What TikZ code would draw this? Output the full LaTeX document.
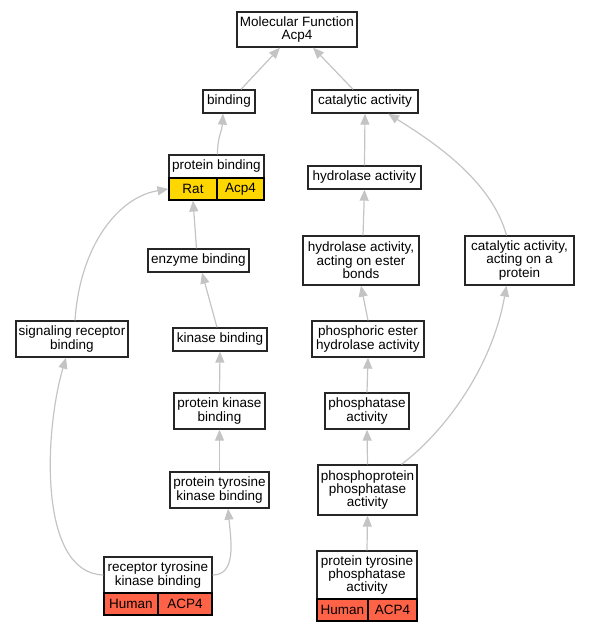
\documentclass[tikz,border=0pt]{standalone}
\usepackage{fontspec}
\setmainfont{Liberation Sans}
\usetikzlibrary{arrows.meta}
\definecolor{edgegray}{HTML}{C4C4C4}
\definecolor{ratgold}{HTML}{FFD700}
\definecolor{humanred}{HTML}{FF6347}

\begin{document}
\begin{tikzpicture}[x=1pt,y=-1pt,
    term/.style={draw=black!85, line width=1.3pt, fill=white, align=center, inner sep=0pt, font=\fontsize{13.5}{13.4}\selectfont},
    cell/.style={draw=black, line width=1.1pt, align=center, inner sep=0pt, minimum height=22pt, font=\fontsize{13.5}{13.4}\selectfont},
    edge/.style={draw=edgegray, line width=1.2pt, -{Triangle[length=11pt,width=9pt]}}]
    \useasboundingbox (0,0) rectangle (589,632);
    % terms
    \node[term, minimum width=120pt, minimum height=35pt] (mf) at (297,29.5) {Molecular Function\\Acp4};
    \node[term, minimum width=52pt, minimum height=23pt] (bind) at (229,101.5) {binding};
    \node[term, minimum width=106pt, minimum height=23pt] (cat) at (365,101.5) {catalytic activity};
    \node[term, minimum width=95pt, minimum height=23pt] (pb) at (216.5,166.5) {protein binding};
    \node[cell, fill=ratgold, minimum width=48pt] (pbRat) at (193,189) {Rat};
    \node[cell, fill=ratgold, minimum width=47pt] (pbAcp) at (240.5,189) {Acp4};
    \node[term, minimum width=113pt, minimum height=23pt] (hyd) at (364.5,177.5) {hydrolase activity};
    \node[term, minimum width=101pt, minimum height=23pt] (enz) at (198.5,260.5) {enzyme binding};
    \node[term, minimum width=116pt, minimum height=49pt] (hydest) at (361,260.5) {hydrolase activity,\\acting on ester\\bonds};
    \node[term, minimum width=109pt, minimum height=49pt] (catprot) at (519.5,260.5) {catalytic activity,\\acting on a\\protein};
    \node[term, minimum width=112pt, minimum height=36pt] (sig) at (72,339) {signaling receptor\\binding};
    \node[term, minimum width=94pt, minimum height=23pt] (kin) at (220,339.5) {kinase binding};
    \node[term, minimum width=112pt, minimum height=36pt] (phest) at (368,339) {phosphoric ester\\hydrolase activity};
    \node[term, minimum width=91pt, minimum height=36pt] (pkb) at (219.5,411) {protein kinase\\binding};
    \node[term, minimum width=84pt, minimum height=36pt] (phos) at (367,411) {phosphatase\\activity};
    \node[term, minimum width=99pt, minimum height=36pt] (ptkb) at (219.5,490) {protein tyrosine\\kinase binding};
    \node[term, minimum width=99pt, minimum height=50pt] (ppp) at (367.5,490) {phosphoprotein\\phosphatase\\activity};
    \node[term, minimum width=108pt, minimum height=36pt] (rtkb) at (158,575) {receptor tyrosine\\kinase binding};
    \node[cell, fill=humanred, minimum width=54pt] (rtkbHuman) at (131,604) {Human};
    \node[cell, fill=humanred, minimum width=54pt] (rtkbAcp) at (185,604) {ACP4};
    \node[term, minimum width=100pt, minimum height=48pt] (ptpa) at (367,575) {protein tyrosine\\phosphatase\\activity};
    \node[cell, fill=humanred, minimum width=51pt] (ptpaHuman) at (342.5,610) {Human};
    \node[cell, fill=humanred, minimum width=49pt] (ptpaAcp) at (392.5,610) {ACP4};
    % is_a links, child to parent
    \draw[edge] ([xshift=12pt]bind.north) -- ([xshift=-17pt]mf.south);
    \draw[edge] ([xshift=-12pt]cat.north) -- ([xshift=16pt]mf.south);
    \draw[edge] ([xshift=1pt]pb.north) .. controls +(0,-18) and +(-1,18) .. ([xshift=-6pt]bind.south);
    \draw[edge] ([xshift=-2pt]enz.north) -- (pbRat.south);
    \draw[edge] ([xshift=3pt]sig.north) .. controls +(5,-75) and +(-50,8) .. (pbRat.west);
    \draw[edge] ([xshift=-3pt]kin.north) -- ([xshift=3.5pt]enz.south);
    \draw[edge] ([xshift=2pt]hydest.north) -- (hyd.south);
    \draw[edge] ([xshift=-13pt]catprot.north) .. controls +(-15,-55) and +(45,28) .. ([xshift=23pt]cat.south);
    \draw[edge] ([xshift=34pt]ppp.north) .. controls +(40,-30) and +(-15,85) .. ([xshift=-13pt]catprot.south);
    \draw[edge] (rtkb.east) .. controls +(24,0) and +(3,32) .. ([xshift=8.5pt]ptkb.south);
    \draw[edge] (rtkb.west) .. controls +(-65,-2) and +(-22,75) .. ([xshift=-6pt]sig.south);
    \foreach \a/\b in {hyd/cat, phest/hydest, pkb/kin, ptkb/pkb, phos/phest, ppp/phos, ptpa/ppp}
        \draw[edge] (\a.north) -- (\b.south);
\end{tikzpicture}
\end{document}
